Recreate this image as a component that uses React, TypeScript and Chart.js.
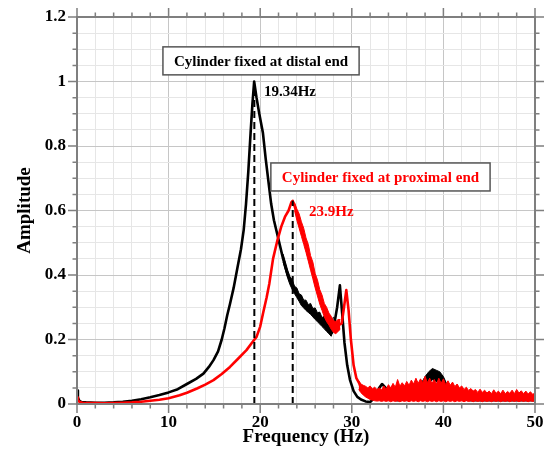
import React, { useEffect, useRef } from "react";
import { Chart, registerables } from "chart.js";
Chart.register(...registerables);

// ---- data ----
// Cylinder fixed at distal end (black): centre line
const distalFreq = [
  0, 0.1, 0.25, 0.5, 1, 2, 3, 4, 5, 6, 7, 8, 9, 10, 11, 12, 13, 13.8, 14.4, 14.9,
  15.4, 15.8, 16.1, 16.4, 16.7, 17.1, 17.5, 17.9, 18.2, 18.45, 18.7, 18.95, 19.15, 19.34, 19.6, 19.9, 20.3, 20.6,
  20.9, 21.2, 21.5, 22.0, 22.5, 23.0, 23.5, 24.0, 24.5, 25.0, 25.5, 26.0, 26.5, 27.0, 27.5, 27.8,
  28.1, 28.4, 28.7, 28.95, 29.2, 29.5, 29.8, 30.2, 30.6, 31.0, 31.5, 32.0, 32.5, 33.0, 33.3, 33.7,
  34.0, 34.5, 35.0, 36.0, 36.8, 37.5, 38.0, 38.5, 39.0, 39.5, 40.0, 40.5, 41.0, 42.0, 43.0, 44.0,
  45.0, 46.0, 47.0, 48.0, 49.0, 50.0,
];
const distalAmp = [
  0.042, 0.02, 0.01, 0.006, 0.005, 0.004, 0.004, 0.005, 0.007, 0.01, 0.015, 0.021, 0.028, 0.036, 0.046, 0.062, 0.078, 0.094, 0.115, 0.136,
  0.163, 0.2, 0.235, 0.275, 0.31, 0.36, 0.42, 0.48, 0.54, 0.62, 0.72, 0.84, 0.93, 1.0, 0.95, 0.9, 0.84, 0.76,
  0.69, 0.62, 0.57, 0.51, 0.45, 0.4, 0.37, 0.343, 0.32, 0.305, 0.295, 0.28, 0.265, 0.25, 0.235, 0.22,
  0.25, 0.3, 0.368, 0.28, 0.19, 0.12, 0.075, 0.04, 0.022, 0.014, 0.008, 0.006, 0.02, 0.05, 0.062, 0.05,
  0.03, 0.015, 0.012, 0.015, 0.025, 0.045, 0.07, 0.085, 0.09, 0.08, 0.068, 0.045, 0.025, 0.015, 0.012, 0.012,
  0.012, 0.012, 0.012, 0.012, 0.012, 0.012,
];
// black noise bands (low / high envelopes)
const distalBand1Freq = [
  22.5, 22.75, 23.0, 23.25, 23.5, 23.75, 24.0, 24.25, 24.5, 24.75, 25.0, 25.25,
  25.5, 25.75, 26.0, 26.25, 26.5, 26.75, 27.0, 27.25, 27.5, 27.75, 28.0,
];
const distalBand1Low = [
  0.44, 0.415, 0.39, 0.37, 0.355, 0.342, 0.33, 0.318, 0.305, 0.298, 0.29, 0.284,
  0.278, 0.27, 0.262, 0.255, 0.248, 0.24, 0.233, 0.225, 0.218, 0.21, 0.235,
];
const distalBand1High = [
  0.465, 0.44, 0.415, 0.395, 0.385, 0.365, 0.36, 0.342, 0.338, 0.322, 0.322, 0.308,
  0.312, 0.296, 0.298, 0.283, 0.285, 0.268, 0.272, 0.255, 0.26, 0.245, 0.27,
];
const distalBand2Freq = [36.8, 37.2, 37.6, 38, 38.4, 38.8, 39.2, 39.6, 40, 40.4, 40.8];
const distalBand2Low = [0.02, 0.025, 0.035, 0.05, 0.065, 0.075, 0.07, 0.06, 0.05, 0.035, 0.02];
const distalBand2High = [0.03, 0.045, 0.065, 0.085, 0.1, 0.11, 0.105, 0.1, 0.085, 0.06, 0.035];

// Cylinder fixed at proximal end (red): centre line
const proximalFreq = [
  0, 0.1, 0.3, 0.6, 1, 2, 3, 4, 5, 6, 7, 8, 9, 10, 11.2, 12, 13.1, 14, 14.9, 15.8,
  16.7, 17.5, 18.5, 19.1, 19.6, 20.0, 20.3, 20.7, 21.0, 21.4, 21.9, 22.3, 22.7, 23.1, 23.4, 23.55,
  23.8, 24.1, 24.5, 25.0, 25.5, 26.0, 26.5, 27.0, 27.5, 28.0, 28.3, 28.6, 28.9, 29.15, 29.4, 29.65,
  29.9, 30.2, 30.5, 30.8, 31.0, 32.0, 34.0, 36.0, 38.0, 40.0, 42.0, 44.0, 46.0, 48.0, 50.0,
];
const proximalAmp = [
  0.02, 0.012, 0.006, 0.004, 0.003, 0.003, 0.002, 0.003, 0.004, 0.005, 0.007, 0.01, 0.013, 0.018, 0.027, 0.035, 0.048, 0.06, 0.074, 0.093,
  0.115, 0.138, 0.167, 0.19, 0.208, 0.24, 0.28, 0.33, 0.374, 0.45, 0.51, 0.55, 0.58, 0.6, 0.625, 0.63,
  0.61, 0.58, 0.54, 0.49, 0.435, 0.38, 0.33, 0.29, 0.26, 0.235, 0.23, 0.245, 0.25, 0.3, 0.353, 0.29,
  0.2, 0.12, 0.08, 0.065, 0.05, 0.035, 0.035, 0.04, 0.045, 0.045, 0.03, 0.025, 0.025, 0.025, 0.02,
];
// red noise bands (low / high envelopes)
const proximalBand1Freq = [
  23.75, 24.0, 24.25, 24.5, 24.75, 25.0, 25.25, 25.5, 25.75, 26.0, 26.25,
  26.5, 26.75, 27.0, 27.25, 27.5, 27.75, 28.0, 28.25, 28.5, 28.75,
];
const proximalBand1Low = [
  0.6, 0.57, 0.545, 0.52, 0.495, 0.47, 0.443, 0.415, 0.388, 0.36, 0.335,
  0.31, 0.29, 0.27, 0.255, 0.245, 0.232, 0.222, 0.218, 0.225, 0.232,
];
const proximalBand1High = [
  0.625, 0.605, 0.59, 0.565, 0.545, 0.515, 0.495, 0.46, 0.44, 0.405, 0.385,
  0.355, 0.338, 0.312, 0.3, 0.282, 0.272, 0.258, 0.256, 0.262, 0.262,
];
const proximalBand2Freq = [
  30.75, 31.0, 31.25, 31.5, 31.75, 32.0, 32.25, 32.5, 32.75, 33.0, 33.25, 33.5, 33.75, 34.0, 34.25, 34.5,
  34.75, 35.0, 35.25, 35.5, 35.75, 36.0, 36.25, 36.5, 36.75, 37.0, 37.25, 37.5, 37.75, 38.0, 38.25, 38.5,
  38.75, 39.0, 39.25, 39.5, 39.75, 40.0, 40.25, 40.5, 40.75, 41.0, 41.25, 41.5, 41.75, 42.0, 42.25, 42.5,
  42.75, 43.0, 43.25, 43.5, 43.75, 44.0, 44.25, 44.5, 44.75, 45.0, 45.25, 45.5, 45.75, 46.0, 46.25, 46.5,
  46.75, 47.0, 47.25, 47.5, 47.75, 48.0, 48.25, 48.5, 48.75, 49.0, 49.25, 49.5, 49.75, 50.0,
];
const proximalBand2Low = [
  0.045, 0.035, 0.028, 0.022, 0.018, 0.014, 0.012, 0.01, 0.009, 0.01, 0.008, 0.01, 0.008, 0.01, 0.007, 0.01,
  0.008, 0.01, 0.007, 0.01, 0.008, 0.01, 0.007, 0.01, 0.008, 0.01, 0.007, 0.01, 0.008, 0.01, 0.007, 0.01,
  0.008, 0.01, 0.007, 0.01, 0.008, 0.01, 0.007, 0.01, 0.008, 0.01, 0.007, 0.01, 0.008, 0.01, 0.007, 0.01,
  0.008, 0.01, 0.007, 0.01, 0.008, 0.01, 0.007, 0.01, 0.008, 0.01, 0.007, 0.01, 0.008, 0.01, 0.007, 0.01,
  0.008, 0.01, 0.007, 0.01, 0.008, 0.01, 0.007, 0.01, 0.008, 0.01, 0.007, 0.01, 0.008, 0.01,
];
const proximalBand2High = [
  0.072, 0.062, 0.058, 0.055, 0.05, 0.056, 0.047, 0.052, 0.045, 0.05, 0.044, 0.056, 0.046, 0.06, 0.05, 0.064,
  0.052, 0.076, 0.055, 0.066, 0.056, 0.07, 0.058, 0.074, 0.062, 0.08, 0.064, 0.078, 0.066, 0.086, 0.066, 0.08,
  0.064, 0.076, 0.062, 0.08, 0.064, 0.078, 0.06, 0.072, 0.058, 0.068, 0.054, 0.062, 0.05, 0.056, 0.045, 0.052,
  0.042, 0.048, 0.04, 0.045, 0.036, 0.046, 0.036, 0.043, 0.034, 0.04, 0.032, 0.044, 0.033, 0.04, 0.032, 0.043,
  0.032, 0.039, 0.033, 0.043, 0.032, 0.045, 0.034, 0.041, 0.032, 0.04, 0.031, 0.038, 0.03, 0.034,
];

const peakFreqs = [19.36, 23.55];
const peakTops = [0.99, 0.63];
const peakLabels = ["19.34Hz", "23.9Hz"];
const boxLabels = ["Cylinder fixed at distal end", "Cylinder fixed at proximal end"];
const xTickValues = [0, 10, 20, 30, 40, 50];
const yTickValues = [0, 0.2, 0.4, 0.6, 0.8, 1, 1.2];

const BLACK = "#000000";
const RED = "#ff0000";
const FONT = '"Liberation Serif", "Times New Roman", serif';

// annotation placement (data coordinates)
const boxAnchors = [
  { x: 20.09, y: 1.064, color: BLACK },
  { x: 33.13, y: 0.704, color: RED },
];
const peakLabelAnchors = [
  { x: 20.41, y: 0.97, color: BLACK },
  { x: 25.33, y: 0.598, color: RED },
];

const isMajor = (v: number, list: number[]) => list.some((m) => Math.abs(m - v) < 1e-6);

const overlayPlugin = {
  id: "overlay",
  afterDatasetsDraw(chart: any) {
    const { ctx, chartArea, scales } = chart;
    const xs = scales.x;
    const ys = scales.y;
    const { left, right, top, bottom } = chartArea;
    ctx.save();
    ctx.strokeStyle = "#7f7f7f";
    ctx.lineWidth = 2;
    ctx.strokeRect(left, top, right - left, bottom - top);
    ctx.lineWidth = 1.5;
    ctx.beginPath();
    xs.ticks.forEach((t: any) => {
      const px = xs.getPixelForValue(t.value);
      const len = isMajor(t.value, xTickValues) ? 9 : 4.5;
      ctx.moveTo(px, bottom);
      ctx.lineTo(px, bottom + len);
      ctx.moveTo(px, top);
      ctx.lineTo(px, top - len);
    });
    ys.ticks.forEach((t: any) => {
      const py = ys.getPixelForValue(t.value);
      const len = isMajor(t.value, yTickValues) ? 9 : 4.5;
      ctx.moveTo(left, py);
      ctx.lineTo(left - len, py);
      ctx.moveTo(right, py);
      ctx.lineTo(right + len, py);
    });
    ctx.stroke();

    ctx.font = `bold 15px ${FONT}`;
    ctx.textBaseline = "middle";
    boxAnchors.forEach((a, i) => {
      const cx = xs.getPixelForValue(a.x);
      const cy = ys.getPixelForValue(a.y);
      const w = ctx.measureText(boxLabels[i]).width;
      const bw = w + 22;
      const bh = 28;
      ctx.fillStyle = "#ffffff";
      ctx.fillRect(cx - bw / 2, cy - bh / 2, bw, bh);
      ctx.strokeStyle = "#555555";
      ctx.lineWidth = 1.5;
      ctx.strokeRect(cx - bw / 2, cy - bh / 2, bw, bh);
      ctx.fillStyle = a.color;
      ctx.textAlign = "center";
      ctx.fillText(boxLabels[i], cx, cy + 1);
    });
    ctx.textAlign = "left";
    peakLabelAnchors.forEach((a, i) => {
      ctx.fillStyle = a.color;
      ctx.fillText(peakLabels[i], xs.getPixelForValue(a.x), ys.getPixelForValue(a.y) + 1);
    });
    ctx.restore();
  },
};

const pts = (xs: number[], ys: number[]) => xs.map((x, i) => ({ x, y: ys[i] }));
const lineDs = (xs: number[], ys: number[], color: string, width: number) => ({
  data: pts(xs, ys),
  borderColor: color,
  borderWidth: width,
  borderJoinStyle: "round",
  pointRadius: 0,
  tension: 0,
  fill: false,
});
const bandDs = (xs: number[], lo: number[], hi: number[], color: string) => [
  {
    data: pts(xs, hi),
    borderColor: color,
    backgroundColor: color,
    borderWidth: 1,
    borderJoinStyle: "round",
    pointRadius: 0,
    tension: 0,
    fill: "+1",
  },
  {
    data: pts(xs, lo),
    borderColor: color,
    backgroundColor: color,
    borderWidth: 1,
    borderJoinStyle: "round",
    pointRadius: 0,
    tension: 0,
    fill: false,
  },
];

export default function App() {
  const ref = useRef<HTMLCanvasElement | null>(null);
  useEffect(() => {
    if (!ref.current) return;
    const dashed = peakFreqs.map((f, i) => ({
      data: [
        { x: f, y: 0 },
        { x: f, y: peakTops[i] },
      ],
      borderColor: BLACK,
      borderWidth: 2,
      borderDash: [7, 4],
      pointRadius: 0,
      fill: false,
    }));
    const datasets: any[] = [
      ...dashed,
      lineDs(proximalFreq, proximalAmp, RED, 2.6),
      ...bandDs(proximalBand1Freq, proximalBand1Low, proximalBand1High, RED),
      ...bandDs(proximalBand2Freq, proximalBand2Low, proximalBand2High, RED),
      lineDs(distalFreq, distalAmp, BLACK, 2.6),
      ...bandDs(distalBand1Freq, distalBand1Low, distalBand1High, BLACK),
      ...bandDs(distalBand2Freq, distalBand2Low, distalBand2High, BLACK),
    ];
    const chart = new Chart(ref.current, {
      type: "line",
      data: { datasets },
      options: {
        animation: false,
        responsive: false,
        events: [],
        layout: { padding: { top: 17, right: 12, left: 0, bottom: 0 } },
        plugins: { legend: { display: false }, tooltip: { enabled: false } },
        scales: {
          x: {
            type: "linear",
            min: 0,
            max: 50,
            afterFit: (s: any) => {
              s.height = 61;
              s.paddingLeft = 0;
              s.paddingRight = 0;
            },
            ticks: {
              stepSize: 2,
              autoSkip: false,
              maxRotation: 0,
              padding: 8,
              color: BLACK,
              font: { family: FONT, size: 17, weight: "bold" },
              callback: (v: any) => (isMajor(Number(v), xTickValues) ? String(Math.round(Number(v))) : ""),
            },
            grid: {
              drawTicks: false,
              lineWidth: 1,
              color: (c: any) => (c.tick && isMajor(c.tick.value, xTickValues) ? "#c6c6c6" : "#e6e6e6"),
            },
            border: { display: false },
            title: {
              display: true,
              text: "Frequency (Hz)",
              color: BLACK,
              font: { family: FONT, size: 19, weight: "bold" },
              padding: { top: 0, bottom: 17 },
            },
          },
          y: {
            type: "linear",
            min: 0,
            max: 1.2,
            afterFit: (s: any) => {
              s.width = 77;
              s.paddingTop = 0;
              s.paddingBottom = 0;
            },
            ticks: {
              stepSize: 0.05,
              autoSkip: false,
              padding: 11,
              color: BLACK,
              font: { family: FONT, size: 17, weight: "bold" },
              callback: (v: any) =>
                isMajor(Number(v), yTickValues) ? String(parseFloat(Number(v).toFixed(1))) : "",
            },
            grid: {
              drawTicks: false,
              lineWidth: 1,
              color: (c: any) => (c.tick && isMajor(c.tick.value, yTickValues) ? "#c6c6c6" : "#e6e6e6"),
            },
            border: { display: false },
            title: {
              display: true,
              text: "Amplitude",
              color: BLACK,
              font: { family: FONT, size: 19, weight: "bold" },
              padding: { top: 14, bottom: 0 },
            },
          },
        },
      },
      plugins: [overlayPlugin],
    } as any);
    return () => chart.destroy();
  }, []);
  return (
    <div style={{ position: "absolute", left: 0, top: 0, width: 547, height: 465, background: "#fff" }}>
      <canvas ref={ref} width={547} height={465} style={{ display: "block" }} />
    </div>
  );
}
